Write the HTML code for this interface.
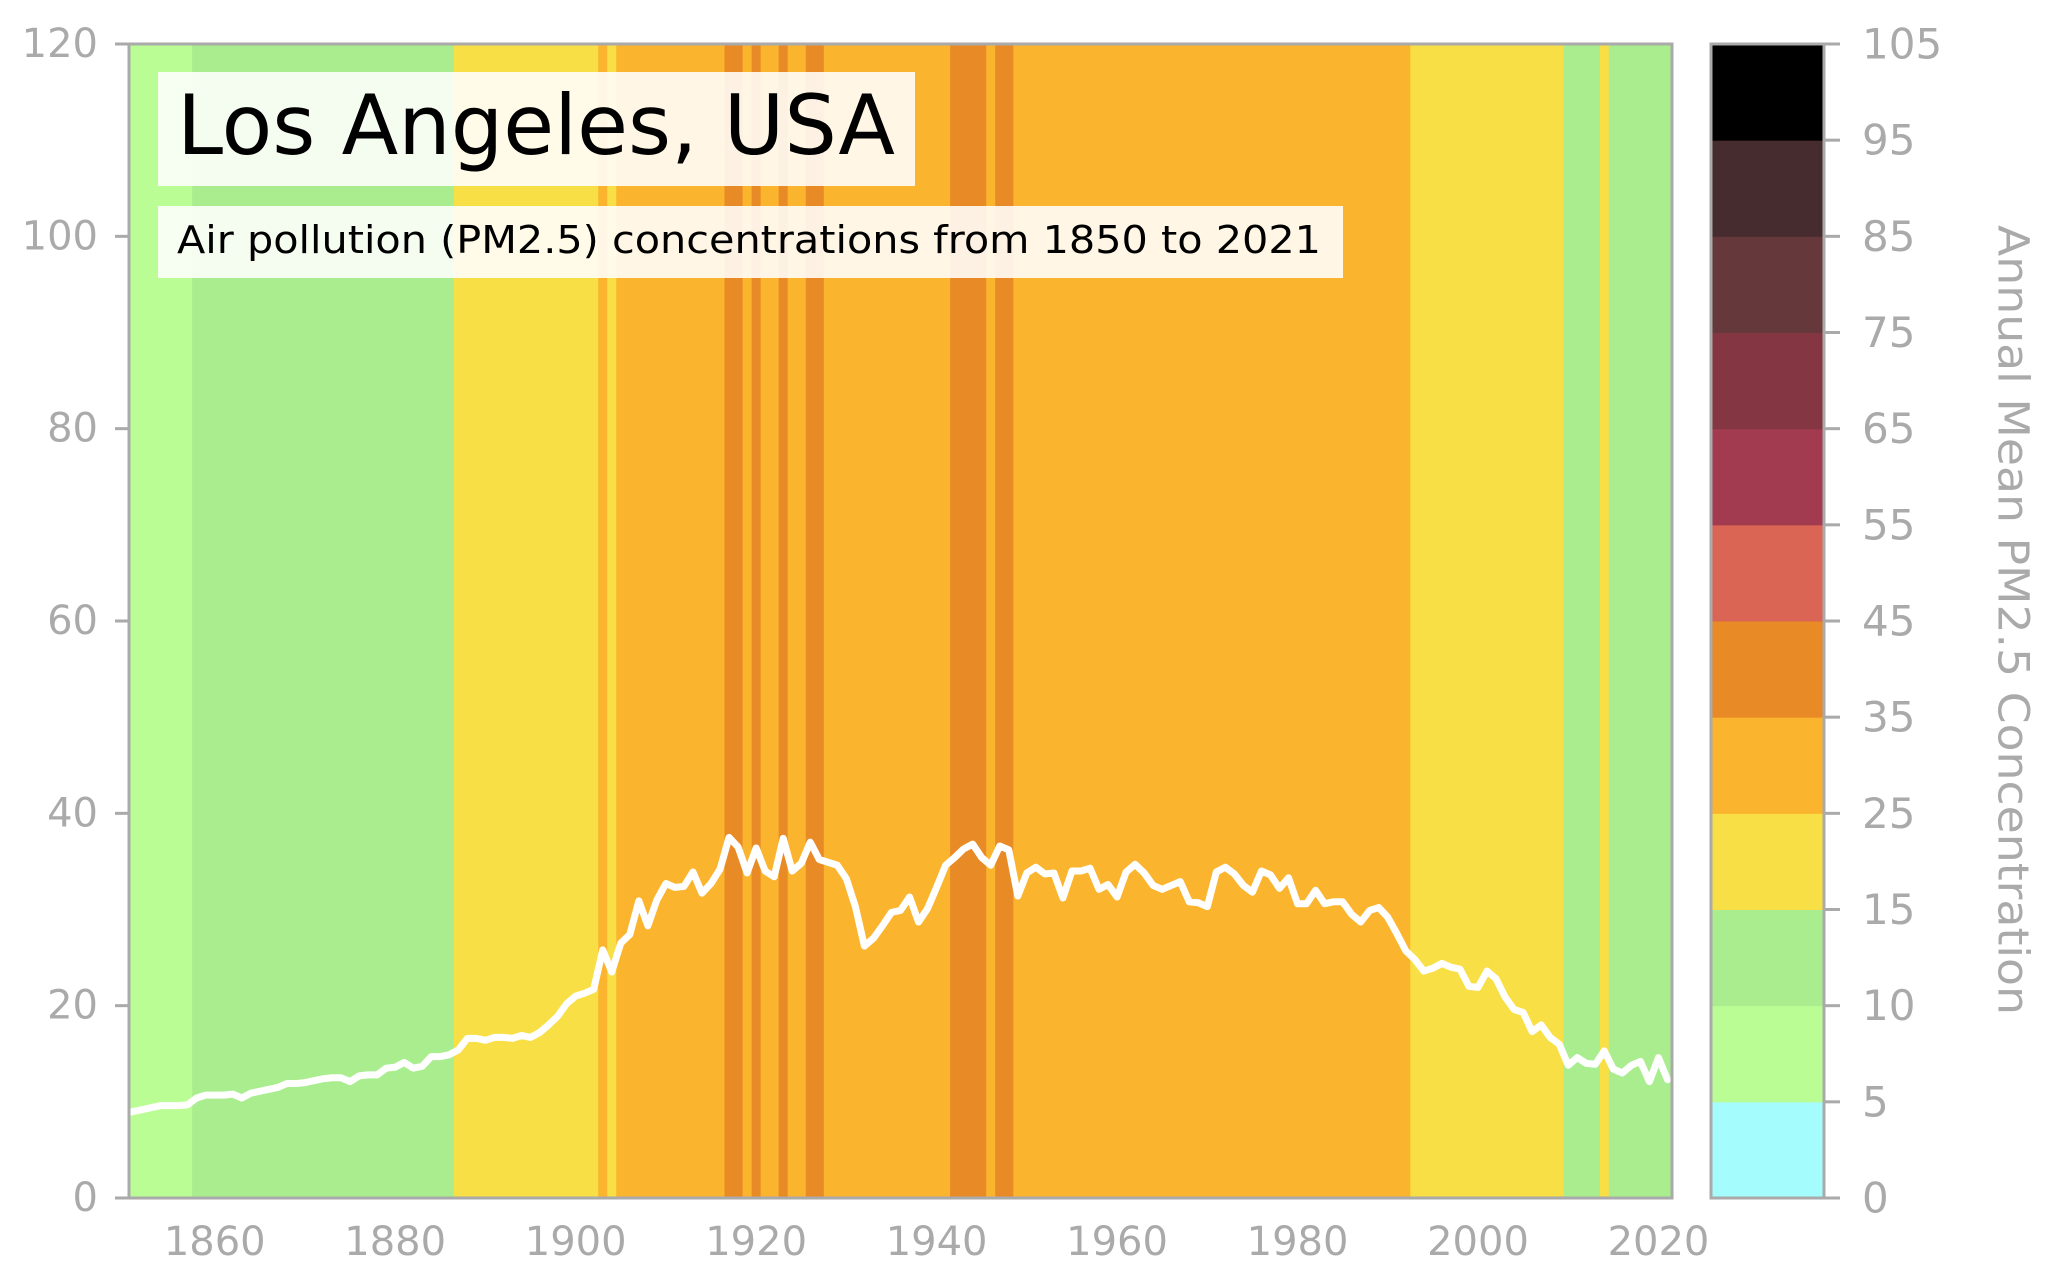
<!DOCTYPE html>
<html><head><meta charset="utf-8"><style>
html,body{margin:0;padding:0;background:#fff;}
svg{display:block;font-family:"DejaVu Sans","Liberation Sans",sans-serif;}
</style></head><body>
<svg id="chart" width="2057" height="1284" viewBox="0 0 2057 1284" xmlns="http://www.w3.org/2000/svg">
<defs><clipPath id="plotclip"><rect x="129" y="44" width="1543" height="1154"/></clipPath></defs>
<g id="bars" clip-path="url(#plotclip)"></g>
<g id="line" clip-path="url(#plotclip)"></g>
<g id="axes"></g>
<g>
<rect x="158" y="72" width="757" height="114" fill="#fff" fill-opacity="0.88"/>
<text x="177" y="154" font-size="83" fill="#000" textLength="718" lengthAdjust="spacingAndGlyphs">Los Angeles, USA</text>
</g>
<g>
<rect x="158" y="206" width="1185" height="72" fill="#fff" fill-opacity="0.88"/>
<text x="177" y="253" font-size="38" fill="#000" textLength="1144" lengthAdjust="spacingAndGlyphs">Air pollution (PM2.5) concentrations from 1850 to 2021</text>
</g>
<g id="cbar"></g>
<text x="2010" y="620" font-size="43" fill="#aaaaaa" text-anchor="middle" dominant-baseline="middle" transform="rotate(90 2010 620)" textLength="790" lengthAdjust="spacingAndGlyphs">Annual Mean PM2.5 Concentration</text>
</svg>
<script>
const startYear = 1850;
const pm25Values = [
8.8,9.0,9.2,9.4,9.6,9.6,9.6,9.7,10.4,10.7,
10.7,10.7,10.8,10.4,10.9,11.1,11.3,11.5,11.9,11.9,
12.0,12.2,12.4,12.5,12.5,12.1,12.7,12.8,12.8,13.5,
13.6,14.1,13.5,13.7,14.7,14.7,14.9,15.4,16.6,16.6,
16.4,16.7,16.7,16.6,16.9,16.7,17.2,18.0,18.9,20.2,
21.0,21.3,21.7,25.8,23.5,26.5,27.4,30.9,28.3,31.0,
32.7,32.3,32.4,33.9,31.7,32.7,34.2,37.5,36.5,33.8,
36.4,34.0,33.4,37.4,34.0,34.8,37.0,35.2,34.9,34.6,
33.2,30.3,26.2,27.0,28.3,29.7,29.9,31.3,28.7,30.1,
32.3,34.6,35.4,36.3,36.8,35.4,34.6,36.6,36.2,31.4,
33.8,34.4,33.7,33.8,31.2,34.0,34.0,34.3,32.1,32.6,
31.3,33.9,34.7,33.8,32.5,32.1,32.5,32.9,30.8,30.7,
30.3,33.9,34.4,33.7,32.5,31.8,34.0,33.6,32.2,33.3,
30.6,30.6,32.0,30.6,30.8,30.8,29.5,28.7,29.9,30.2,
29.2,27.5,25.7,24.8,23.6,23.9,24.4,24.0,23.8,22.0,
21.9,23.6,22.8,20.9,19.6,19.3,17.3,18.0,16.7,16.0,
13.8,14.6,14.0,13.9,15.3,13.4,13.0,13.8,14.2,12.1,
14.6,12.3];
const yTicks = [0,20,40,60,80,100,120];
const xTicks = [1860,1880,1900,1920,1940,1960,1980,2000,2020];
const cbBounds = [0,5,10,15,25,35,45,55,65,75,85,95,105];
const cbColors = ["#a4fcfd","#bbfd95","#a9ed8e","#f8df46","#fbb42e","#e88a25","#da6554","#a23a50","#843643","#65383c","#462c2e","#000000"];

const NS="http://www.w3.org/2000/svg";
const PL=129,PR=1672,PT=44,PB=1198;
const X0=1850.5,X1=2021.5,Y0=0,Y1=120;
function xs(v){return PL+(v-X0)/(X1-X0)*(PR-PL);}
function ys(v){return PB-(v-Y0)/(Y1-Y0)*(PB-PT);}
function mk(tag,attrs,parent){const e=document.createElementNS(NS,tag);for(const k in attrs)e.setAttribute(k,attrs[k]);parent.appendChild(e);return e;}
function colorFor(v){for(let i=0;i<cbColors.length;i++){if(v<cbBounds[i+1])return cbColors[i];}return cbColors[cbColors.length-1];}

const bars=document.getElementById('bars');
pm25Values.forEach((v,i)=>{
  const yr=startYear+i;
  const r=mk('rect',{x:xs(yr-0.5),y:PT,width:xs(yr+0.5)-xs(yr-0.5)+0.6,height:PB-PT,fill:colorFor(v)},bars);
  
  
});
const lineG=document.getElementById('line');
const pts=pm25Values.map((v,i)=>xs(startYear+i).toFixed(2)+','+ys(v).toFixed(2)).join(' ');
const pl=mk('polyline',{points:pts,fill:'none',stroke:'#ffffff','stroke-width':7,'stroke-linejoin':'round','stroke-linecap':'round'},lineG);



const ax=document.getElementById('axes');
const frame=mk('rect',{x:PL,y:PT,width:PR-PL,height:PB-PT,fill:'none',stroke:'#aaaaaa','stroke-width':3},ax);


yTicks.forEach(t=>{
  const y=ys(t);
  const tk=mk('line',{x1:PL-14,x2:PL,y1:y,y2:y,stroke:'#aaaaaa','stroke-width':3},ax);
  
  
  const tx=mk('text',{x:98,y:y,'font-size':40,fill:'#aaaaaa','text-anchor':'end','dominant-baseline':'central'},ax);
  tx.textContent=t;
  
  
});
xTicks.forEach(t=>{
  const tx=mk('text',{x:xs(t),y:1255,'font-size':40,fill:'#aaaaaa','text-anchor':'middle'},ax);
  tx.textContent=t;
  
  
});

const cb=document.getElementById('cbar');
const CL=1711,CR=1824;
const nb=cbColors.length;
function cy(i){return PB-i*(PB-PT)/nb;}
cbColors.forEach((c,i)=>{
  const r=mk('rect',{x:CL,y:cy(i+1),width:CR-CL,height:cy(i)-cy(i+1)+0.5,fill:c},cb);
  
  
});
const cf=mk('rect',{x:CL,y:PT,width:CR-CL,height:PB-PT,fill:'none',stroke:'#aaaaaa','stroke-width':3},cb);


cbBounds.forEach((b,i)=>{
  const y=cy(i);
  const tk=mk('line',{x1:CR,x2:CR+16,y1:y,y2:y,stroke:'#aaaaaa','stroke-width':3},cb);
  
  
  const tx=mk('text',{x:1862,y:y,'font-size':42,fill:'#aaaaaa','dominant-baseline':'central'},cb);
  tx.textContent=b;
  
  
});
</script>
</body></html>
